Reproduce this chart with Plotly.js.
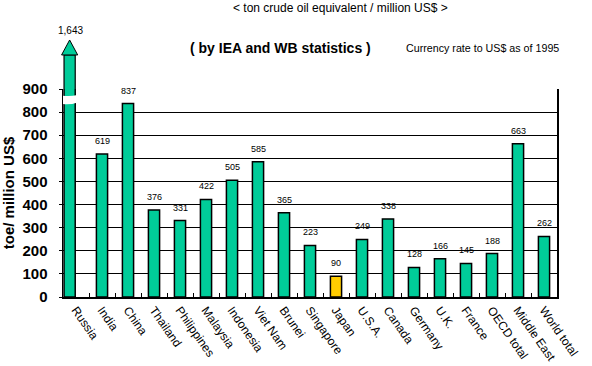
<!DOCTYPE html>
<html>
<head>
<meta charset="utf-8">
<script src="https://cdn.plot.ly/plotly-3.0.1.min.js"></script>
<style>html,body{margin:0;padding:0;background:#fff;}#chart{width:592px;height:366px;}</style>
</head>
<body>
<div id="chart"></div>
<script>
const categories = ['Russia','India','China','Thailand','Philippines','Malaysia','Indonesia','Viet Nam','Brunei','Singapore','Japan','U.S.A.','Canada','Germany','U.K.','France','OECD total','Middle East','World total'];
const values = [1643,619,837,376,331,422,505,585,365,223,90,249,338,128,166,145,188,663,262];
const highlight = 'Japan';
const yTicks = [0,100,200,300,400,500,600,700,800,900];
const axisMax = 900;

const GREEN = '#00CC99', YELLOW = '#FFCC00';
const barW = 0.43;
const idx = categories.map((c, i) => i);
const bounds = categories.slice(1).map((c, i) => i + 0.5);
const colors = categories.map(c => c === highlight ? YELLOW : GREEN);
const offsets = categories.map((c, i) => i === 0 ? -0.46 : -barW / 2);

const russia = values[0];
const headH = 227;               // arrow head height in upper-axis units
const headBase = russia - headH;
const rc = -0.46 + barW / 2;      // Russia bar centre
const n = categories.length;
const toPaper = v => (v + 0.5) / n;

const traces = [
  {
    type: 'bar', x: idx, y: values, width: barW, offset: offsets,
    marker: {color: colors, line: {color: '#000', width: 1.5}},
    hoverinfo: 'y', showlegend: false
  },
  {
    type: 'bar', x: [0], y: [headBase - 880], base: 880,
    width: barW, offset: -0.46, yaxis: 'y2',
    marker: {color: GREEN, line: {color: '#000', width: 1.2}},
    showlegend: false, hoverinfo: 'skip'
  }
];

const F = 'Arial, "Liberation Sans", sans-serif';
const annotations = [];
for (let i = 1; i < n; i++) {
  annotations.push({
    x: i, y: values[i], xref: 'x', yref: 'y', text: String(values[i]),
    showarrow: false, yanchor: 'bottom', yshift: 6,
    font: {family: F, size: 9, color: '#000'}
  });
}
annotations.push({x: rc + 0.05, y: russia, xref: 'x', yref: 'y2', text: '1,643', showarrow: false,
  yanchor: 'bottom', yshift: 2, font: {family: F, size: 10, color: '#000'}});
annotations.push({x: 0.561, y: 1.043, xref: 'paper', yref: 'paper', xanchor: 'center', yanchor: 'middle',
  text: '< ton crude oil equivalent / million US$ >',
  showarrow: false, font: {family: F, size: 12, color: '#000'}});
annotations.push({x: 0.441, y: 0.899, xref: 'paper', yref: 'paper', xanchor: 'center', yanchor: 'middle',
  text: '( by IEA and WB statistics )',
  showarrow: false, font: {family: F, size: 14, color: '#000', weight: 'bold'}});
annotations.push({x: 0.690, y: 0.899, xref: 'paper', yref: 'paper', xanchor: 'left', yanchor: 'middle',
  text: 'Currency rate to US$ as of 1995',
  showarrow: false, font: {family: F, size: 10.7, color: '#000'}});

const shapes = [
  { // axis break
    type: 'path', xref: 'x', yref: 'y', layer: 'above',
    path: 'M -0.56,836 Q -0.25,830 0.06,842 L 0.06,874 Q -0.25,866 -0.56,872 Z',
    fillcolor: '#fff', line: {width: 0}
  },
  { // arrow head
    type: 'path', xref: 'paper', yref: 'y2', layer: 'above',
    path: `M ${toPaper(rc - 0.31)},${headBase} L ${toPaper(rc)},${russia} L ${toPaper(rc + 0.31)},${headBase} Z`,
    fillcolor: GREEN, line: {color: '#000', width: 1}
  }
];

const yDomTop = (297 - 89) / 277;
const layout = {
  width: 592, height: 366,
  margin: {l: 63, r: 35, t: 20, b: 69},
  paper_bgcolor: '#fff', plot_bgcolor: '#fff',
  barmode: 'overlay', showlegend: false,
  xaxis: {
    type: 'linear', range: [-0.5, n - 0.5],
    tickmode: 'array', tickvals: idx, ticktext: categories, ticks: '',
    minor: {tickmode: 'array', tickvals: bounds, ticks: 'inside', ticklen: 4, tickcolor: '#000', tickwidth: 1, showgrid: false},
    showline: true, linecolor: '#000', linewidth: 1.5,
    tickangle: 55, tickfont: {family: F, size: 12, color: '#000'},
    showgrid: false, zeroline: false, fixedrange: true
  },
  yaxis: {
    domain: [0, yDomTop], range: [0, axisMax], tickvals: yTicks,
    showgrid: true, gridcolor: '#000', gridwidth: 1,
    showline: true, mirror: true, linecolor: '#000', linewidth: 1.5,
    ticks: 'outside', ticklen: 3, tickcolor: '#000', ticklabelstandoff: 8,
    tickfont: {family: F, size: 15, color: '#000', weight: 'bold'},
    zeroline: false,
    title: {text: 'toe/ million US$', font: {family: F, size: 15, color: '#000', weight: 'bold'}, standoff: 6},
    fixedrange: true
  },
  yaxis2: {
    domain: [yDomTop, 1], range: [900, 1946], anchor: 'x', visible: false, fixedrange: true
  },
  annotations: annotations,
  shapes: shapes
};

Plotly.newPlot('chart', traces, layout, {displayModeBar: false, staticPlot: true});
</script>
</body>
</html>
